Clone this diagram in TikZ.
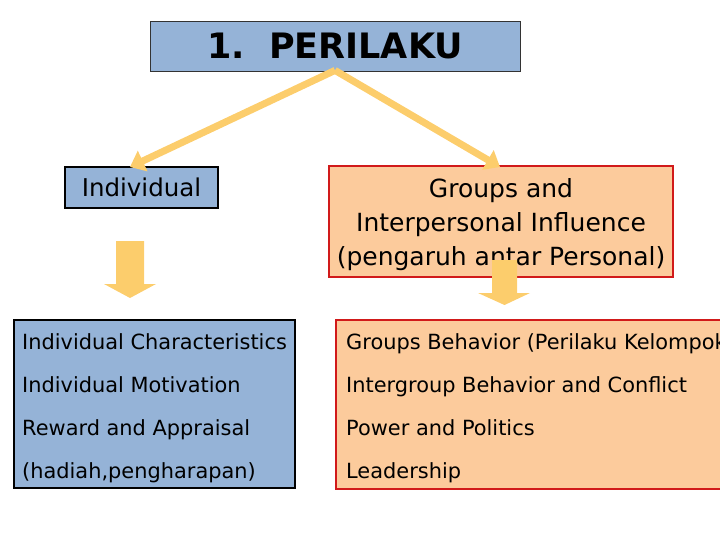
\documentclass[tikz,border=0pt]{standalone}
\usepackage{fontspec}
\setmainfont{DejaVu Sans}
\usetikzlibrary{arrows.meta}
\definecolor{boxblue}{HTML}{95B3D7}
\definecolor{peach}{HTML}{FCCB9C}
\definecolor{boxred}{HTML}{D11A1A}
\definecolor{arrowyel}{HTML}{FCCD6C}
\begin{document}
\begin{tikzpicture}[x=1pt,y=-1pt,
  bluebox/.style={draw=black,fill=boxblue,line width=2.8pt,inner sep=0pt},
  peachbox/.style={draw=boxred,fill=peach,line width=2.8pt,inner sep=0pt},
  listtext/.style={anchor=base west,inner sep=0pt,font=\fontsize{20.9}{25}\selectfont},
  grptext/.style={inner sep=0pt,anchor=base,font=\fontsize{25}{30}\selectfont},
  link/.style={draw=arrowyel,line width=7pt,-{Triangle[width=22pt,length=14pt]}},
  blockarrow/.style={fill=arrowyel,draw=none}]
\useasboundingbox (0,0) rectangle (720,540);
% title
\node[draw=black!80,fill=boxblue,line width=0.8pt,minimum width=370pt,minimum height=50pt,inner sep=0pt,
  font=\fontsize{35}{42}\selectfont\bfseries] (title) at (335,46) {1.\ \ PERILAKU};
% second level boxes
\node[bluebox,minimum width=153pt,minimum height=41pt,font=\fontsize{24.5}{29}\selectfont] (ind) at (141.5,187.5) {Individual};
\node[peachbox,minimum width=344pt,minimum height=111pt] (grp) at (501,221.5) {};
\node[grptext] (g1) at (501,197) {Groups and};
\node[grptext] (g2) at (501,231) {Interpersonal Influence};
\node[grptext] (g3) at (501,265) {(pengaruh antar Personal)};
% lists
\node[bluebox,minimum width=281pt,minimum height=168pt] (left) at (154.5,404) {};
\node[peachbox,minimum width=394pt,minimum height=169pt] (right) at (533,404.5) {};
\node[listtext] (l1) at (22,349) {Individual Characteristics};
\node[listtext] (l2) at (22,392) {Individual Motivation};
\node[listtext] (l3) at (22,435) {Reward and Appraisal};
\node[listtext] (l4) at (22,478) {(hadiah,pengharapan)};
\node[listtext] (r1) at (346,349) {Groups Behavior (Perilaku Kelompok)};
\node[listtext] (r2) at (346,392) {Intergroup Behavior and Conflict};
\node[listtext] (r3) at (346,435) {Power and Politics};
\node[listtext] (r4) at (346,478) {Leadership};
% connectors
\coordinate (tl) at (130,167);
\coordinate (tr) at (500,167);
\draw[link] ([yshift=1pt]title.south) -- (tl);
\draw[link] ([yshift=1pt]title.south) -- (tr);
% block arrows
\fill[blockarrow] (116,241) -- (144,241) -- (144,284) -- (156,284) -- (130,298) -- (104,284) -- (116,284) -- cycle;
\fill[blockarrow] (492,260) -- (517,260) -- (517,293) -- (530,293) -- (504.5,305) -- (478,293) -- (492,293) -- cycle;
\end{tikzpicture}
\end{document}
